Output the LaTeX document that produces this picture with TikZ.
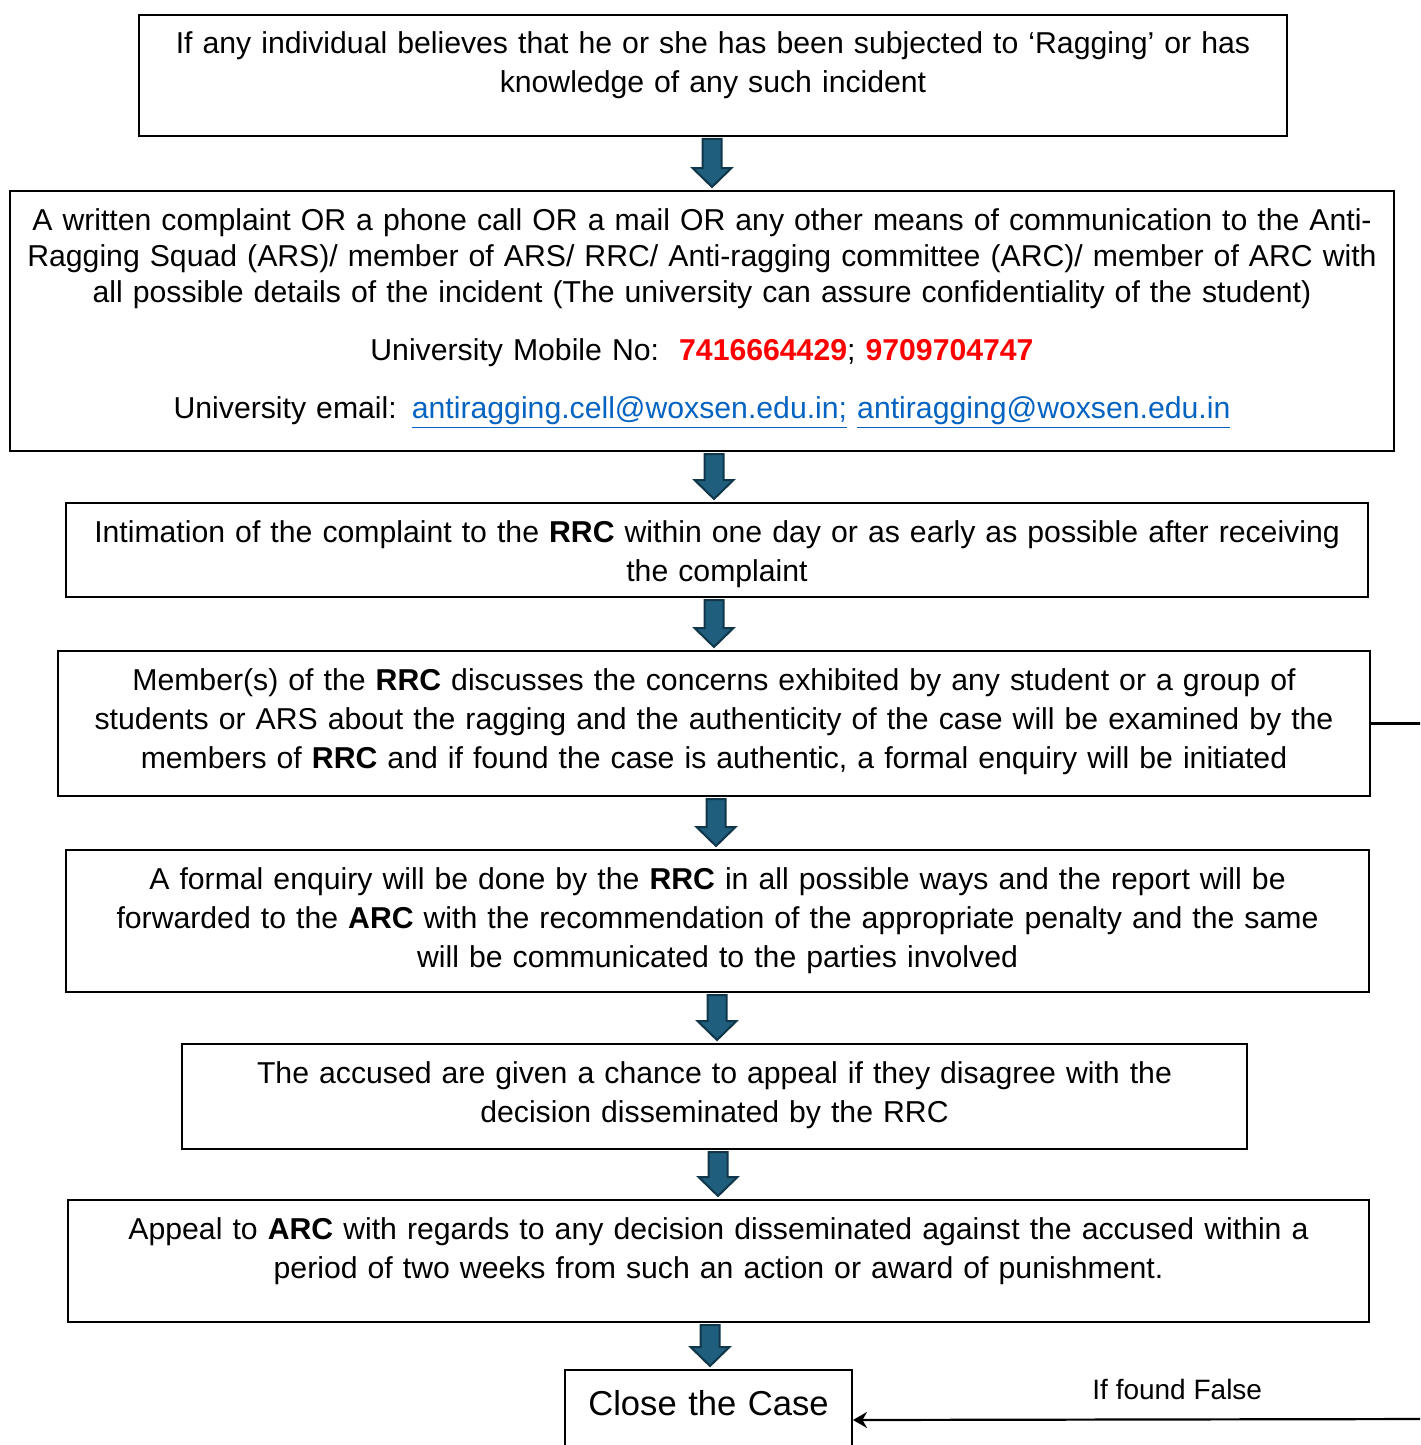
\documentclass[tikz,border=0pt]{standalone}
\usepackage{fontspec}
\setmainfont{Liberation Sans}
\usetikzlibrary{arrows.meta, calc, positioning}

\definecolor{arrowfill}{RGB}{31,94,124}
\definecolor{arrowline}{RGB}{16,54,74}
\definecolor{phonered}{RGB}{255,0,0}
\definecolor{linkblue}{RGB}{5,99,193}

\tikzset{
    stepbox/.style={draw, line width=1pt, anchor=north, align=center, inner xsep=0pt, inner ysep=0pt,
                    font=\fontsize{15.1pt}{19.5pt}\selectfont, text height=19.5pt},
    flowarrow/.style={draw=arrowline, fill=arrowfill, line width=1pt,
        to path={let \p1=(\tikztostart), \p2=(\tikztotarget) in
            (\x1-4.75pt,\y1-1pt) -- (\x1+4.75pt,\y1-1pt) -- (\x1+4.75pt,\y2+11pt)
            -- (\x1+9.75pt,\y2+11pt) -- (\x1,\y2+1.5pt) -- (\x1-9.75pt,\y2+11pt)
            -- (\x1-4.75pt,\y2+11pt) -- cycle}},
    backlink/.style={line width=1.1pt, -{Stealth[length=7pt, width=8pt]}}
}

\begin{document}
\begin{tikzpicture}[x=1pt, y=-1pt]
    \clip (0,0) rectangle (710,722.5);

    % steps of the procedure
    \node[stepbox, text width=574pt, text depth=41pt] (b1) at (356.5, 7)
        {If any individual believes that he or she has been subjected to ‘Ragging’ or has\\
         knowledge of any such incident};
    \node[stepbox, text width=692pt, text depth=110.5pt, font=\fontsize{15.1pt}{18pt}\selectfont] (b2) at (351, 95)
        {A written complaint OR a phone call OR a mail OR any other means of communication to the Anti-\\
         Ragging Squad (ARS)/ member of ARS/ RRC/ Anti-ragging committee (ARC)/ member of ARC with\\
         all possible details of the incident (The university can assure confidentiality of the student)\\[11pt]
         University Mobile No:\ \ {\color{phonered}\textbf{7416664429}}; {\color{phonered}\textbf{9709704747}}\\[11pt]
         University email: {\color{linkblue}\underline{antiragging.cell@woxsen.edu.in;} \underline{antiragging@woxsen.edu.in}}};
    \node[stepbox, text width=651pt, text depth=27.5pt] (b3) at (358.5, 251)
        {Intimation of the complaint to the \textbf{RRC} within one day or as early as possible after receiving\\
         the complaint};
    \node[stepbox, text width=656pt, text depth=53pt] (b4) at (357, 325)
        {Member(s) of the \textbf{RRC} discusses the concerns exhibited by any student or a group of\\
         students or ARS about the ragging and the authenticity of the case will be examined by the\\
         members of \textbf{RRC} and if found the case is authentic, a formal enquiry will be initiated};
    \node[stepbox, text width=651.5pt, text depth=51.5pt] (b5) at (358.75, 424.5)
        {A formal enquiry will be done by the \textbf{RRC} in all possible ways and the report will be\\
         forwarded to the \textbf{ARC} with the recommendation of the appropriate penalty and the same\\
         will be communicated to the parties involved};
    \node[stepbox, text width=532.5pt, text depth=33pt] (b6) at (357.25, 521.5)
        {The accused are given a chance to appeal if they disagree with the\\
         decision disseminated by the RRC};
    \node[stepbox, text width=650.5pt, text depth=41.5pt] (b7) at (359.25, 599.5)
        {Appeal to \textbf{ARC} with regards to any decision disseminated against the accused within a\\
         period of two weeks from such an action or award of punishment.};
    \node[stepbox, text width=143.5pt, text height=22.5pt, text depth=27.5pt,
          font=\fontsize{17.3pt}{20pt}\selectfont] (b8) at (354.25, 684.5) {Close the Case};

    % block arrows between the steps
    \draw[flowarrow] (356,0 |- b1.south) to (356,0 |- b2.north);
    \draw[flowarrow] (357,0 |- b2.south) to (357,0 |- b3.north);
    \draw[flowarrow] (357,0 |- b3.south) to (357,0 |- b4.north);
    \draw[flowarrow] (358,0 |- b4.south) to (358,0 |- b5.north);
    \draw[flowarrow] (358.5,0 |- b5.south) to (358.5,0 |- b6.north);
    \draw[flowarrow] (359,0 |- b6.south) to (359,0 |- b7.north);
    \draw[flowarrow] (355,0 |- b7.south) to (355,0 |- b8.north);

    % false case goes back to closing
    \coordinate (turn) at (716, 709.5);
    \draw[line width=1.1pt] (b4.east) -- (b4.east -| turn) -- (turn);
    \draw[backlink] (turn) -- node[pos=0.44, above=6pt, font=\fontsize{14pt}{16pt}\selectfont] (falsenote) {If found False} (b8.east);
\end{tikzpicture}
\end{document}
